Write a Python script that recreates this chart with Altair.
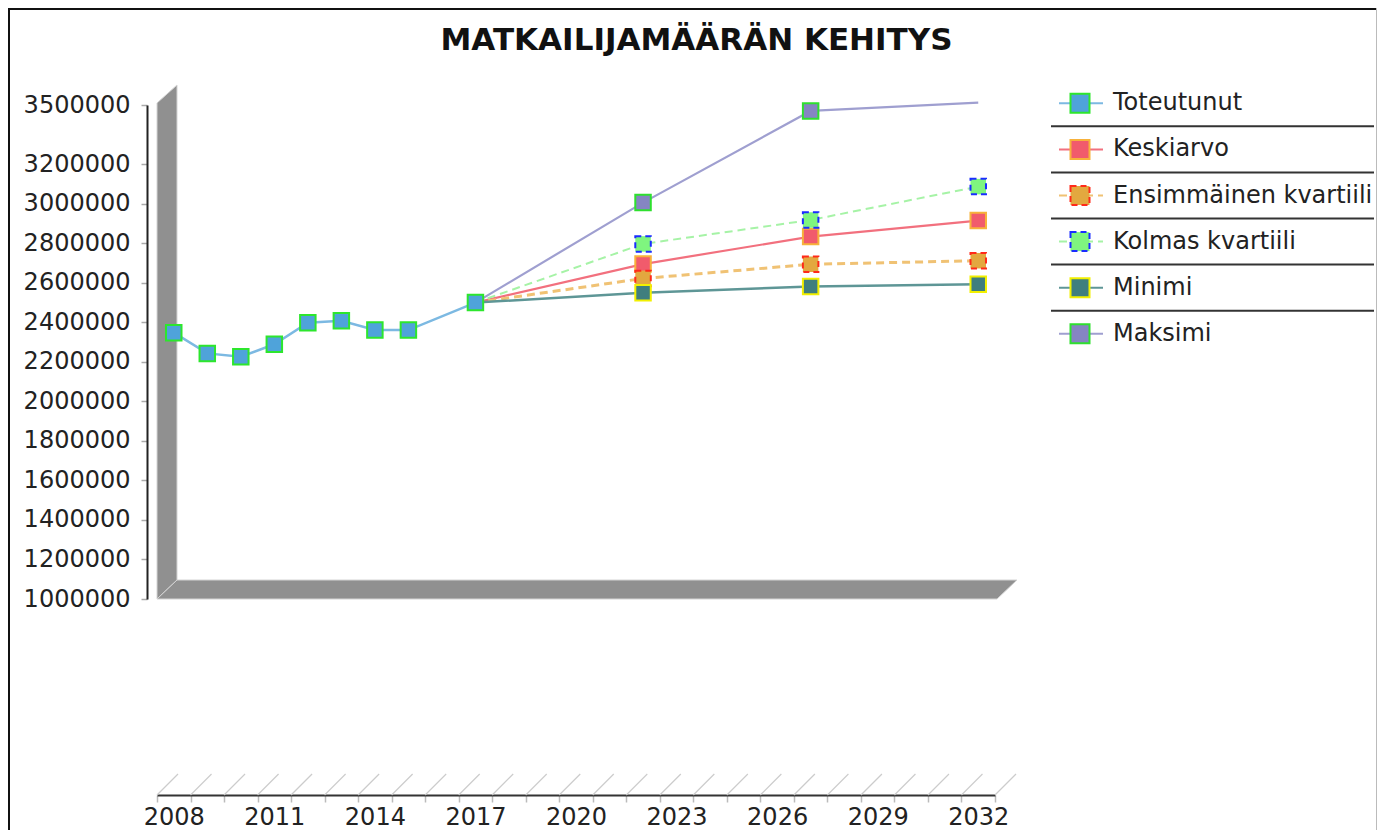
import altair as alt
import pandas as pd

TITLE = "MATKAILIJAMÄÄRÄN KEHITYS"
SERIES = ["Toteutunut", "Keskiarvo", "Ensimmäinen kvartiili",
          "Kolmas kvartiili", "Minimi", "Maksimi"]

YEARS_ALL = list(range(2008, 2033))
TOT_YEARS = [2008, 2009, 2010, 2011, 2012, 2013, 2014, 2015, 2017]
TOT_VALUES = [2348000, 2243000, 2226000, 2289000, 2398000, 2408000,
              2361000, 2361000, 2500000]
FC_YEARS = [2017, 2022, 2027, 2032]
KESKIARVO = [2500000, 2695000, 2834000, 2915000]
ENSIMMAINEN = [2500000, 2622000, 2694000, 2712000]
KOLMAS = [2500000, 2797000, 2918000, 3087000]
MINIMI = [2500000, 2550000, 2581000, 2593000]
MAKSIMI = [2500000, 3006000, 3470000, 3512000]

Y_TICKS = [1000000, 1200000, 1400000, 1600000, 1800000, 2000000,
           2200000, 2400000, 2600000, 2800000, 3000000, 3200000, 3500000]
Y_MIN, Y_MAX = 1000000, 3500000

rows = []
for yr, v in zip(TOT_YEARS, TOT_VALUES):
    rows.append({"series": "Toteutunut", "year": yr, "value": v})
for name, vals in zip(SERIES[1:], [KESKIARVO, ENSIMMAINEN, KOLMAS, MINIMI, MAKSIMI]):
    for yr, v in zip(FC_YEARS, vals):
        rows.append({"series": name, "year": yr, "value": v})
df = pd.DataFrame(rows)

# ---- styles ----
STYLE = {
    "Toteutunut": dict(line="#7cb9e2", lw=2.5, fill="#4fa3da", stroke="#2de62d"),
    "Keskiarvo": dict(line="#f2707e", lw=2.2, fill="#f15b6c", stroke="#f7b23b"),
    "Ensimmäinen kvartiili": dict(line="#f0c274", lw=3, dash=[8, 5], fill="#e3a83f",
                                  stroke="#ff2a1a", mdash=[6, 4]),
    "Kolmas kvartiili": dict(line="#a6f3a6", lw=2, dash=[8, 5], fill="#7ff57f",
                             stroke="#1a2cff", mdash=[6, 4]),
    "Minimi": dict(line="#5e9696", lw=2.5, fill="#3f7e7e", stroke="#f2f000"),
    "Maksimi": dict(line="#9f9fd0", lw=2.2, fill="#8585c2", stroke="#2ee02e"),
}

W, H = 838, 494
PAD_L, PAD_T = 149, 97
SVG_W, SVG_H = 1369, 822
DEPTH_X, DEPTH_Y = 20, 19
AX_OFF = 196
FONT = "DejaVu Sans"
TXT = "#222222"

X_AXIS = alt.Axis(title=None, offset=AX_OFF, tickBand="extent", tickSize=7,
                  tickColor="#bbbbbb", tickWidth=1.5, domainColor="#333333",
                  domainWidth=2, labelFontSize=24, labelColor=TXT, labelPadding=3,
                  labelAngle=0, labelOverlap=False, grid=False,
                  labelExpr="(datum.value - 2008) % 3 == 0 ? datum.label : ''")
X_SCALE = alt.Scale(type="band", domain=YEARS_ALL, paddingInner=0, paddingOuter=0)
X_ENC = alt.X("year:O", scale=X_SCALE, axis=X_AXIS)

Y_AXIS = alt.Axis(title=None, values=Y_TICKS, format="d", offset=10, tickSize=6,
                  tickColor="#aaaaaa", tickWidth=1.5, domainColor="#222222",
                  domainWidth=2, labelFontSize=24, labelColor=TXT, labelPadding=11,
                  labelOverlap=False, grid=False)
Y_ENC = alt.Y("value:Q", scale=alt.Scale(domain=[Y_MIN, Y_MAX], nice=False, zero=False),
              axis=Y_AXIS)

one = pd.DataFrame({"a": [0]})
layers = []

# frame around the whole chart
layers.append(alt.Chart(one).mark_rule(color="#111111", strokeWidth=2).encode(
    x=alt.value(-PAD_L + 1), y=alt.value(-PAD_T), y2=alt.value(SVG_H - PAD_T)))
layers.append(alt.Chart(one).mark_rule(color="#111111", strokeWidth=2).encode(
    x=alt.value(-PAD_L), x2=alt.value(SVG_W - PAD_L), y=alt.value(-PAD_T + 1)))
layers.append(alt.Chart(one).mark_rule(color="#bbbbbb", strokeWidth=1).encode(
    x=alt.value(SVG_W - PAD_L - 0.5), y=alt.value(-PAD_T), y2=alt.value(SVG_H - PAD_T)))

# title
layers.append(alt.Chart(pd.DataFrame({"t": [TITLE]})).mark_text(
    fontSize=31, fontWeight="bold", align="center", baseline="alphabetic",
    color="#111111", font=FONT).encode(
    text="t:N", x=alt.value(539.5), y=alt.value(-55)))

# 3D wall and floor
wall = pd.DataFrame({"px": [0, DEPTH_X], "py": [-2, -2 - DEPTH_Y + 1],
                     "py2": [H, H - DEPTH_Y]})
floor = pd.DataFrame({"px": [0, DEPTH_X, W + 2, W + 2 + DEPTH_X],
                      "py": [H, H - DEPTH_Y, H - DEPTH_Y, H - DEPTH_Y],
                      "py2": [H, H, H, H - DEPTH_Y]})
for poly in (wall, floor):
    layers.append(alt.Chart(poly).mark_area(color="#909090", stroke="#d4d4d4",
                                            strokeWidth=1).encode(
        x=alt.X("px:Q", scale=None),
        y=alt.Y("py:Q", scale=None),
        y2="py2:Q"))

# hatch on the x axis
hatch = pd.DataFrame({"year": YEARS_ALL})
layers.append(alt.Chart(hatch).mark_rule(color="#cccccc", strokeWidth=1.2,
                                         x2Offset=21).encode(
    x=alt.X("year:O", scale=X_SCALE, axis=X_AXIS, bandPosition=0),
    x2=alt.X2("year", bandPosition=0),
    y=alt.value(H + AX_OFF), y2=alt.value(H + AX_OFF - 21)))
layers.append(alt.Chart(pd.DataFrame({"year": [YEARS_ALL[-1]]})).mark_rule(
    color="#cccccc", strokeWidth=1.2, x2Offset=21).encode(
    x=alt.X("year:O", scale=X_SCALE, axis=X_AXIS, bandPosition=1),
    x2=alt.X2("year", bandPosition=1),
    y=alt.value(H + AX_OFF), y2=alt.value(H + AX_OFF - 21)))

# lines
for s in SERIES:
    st = STYLE[s]
    kw = dict(color=st["line"], strokeWidth=st["lw"])
    if "dash" in st:
        kw["strokeDash"] = st["dash"]
    layers.append(alt.Chart(df).transform_filter(alt.datum.series == s)
                  .mark_line(**kw).encode(x=X_ENC, y=Y_ENC))

# markers
for s in SERIES:
    st = STYLE[s]
    kw = dict(shape="square", filled=True, size=240, fill=st["fill"],
              stroke=st["stroke"], strokeWidth=2, opacity=1)
    if "mdash" in st:
        kw["strokeDash"] = st["mdash"]
    ch = alt.Chart(df).transform_filter(alt.datum.series == s)
    if s != "Toteutunut":
        ch = ch.transform_filter(alt.datum.year != 2017)
    ch = ch.transform_filter(alt.datum.value <= Y_MAX)
    layers.append(ch.mark_point(**kw).encode(x=X_ENC, y=Y_ENC))

# legend
STEP = 46.1
for i, s in enumerate(SERIES):
    st = STYLE[s]
    yc = i * STEP - 1.7
    d = pd.DataFrame({"series": [s]})
    if i < len(SERIES) - 1:
        layers.append(alt.Chart(d).mark_rule(color="#333333", strokeWidth=2).encode(
            x=alt.value(894), x2=alt.value(SVG_W - PAD_L - 3), y=alt.value(yc + 23)))
    kw = dict(color=st["line"], strokeWidth=2)
    if "dash" in st:
        kw["strokeDash"] = st["dash"]
    layers.append(alt.Chart(d).mark_rule(**kw).encode(
        x=alt.value(902), x2=alt.value(946), y=alt.value(yc)))
    pkw = dict(shape="square", filled=True, size=361, fill=st["fill"],
               stroke=st["stroke"], strokeWidth=2, opacity=1)
    if "mdash" in st:
        pkw["strokeDash"] = st["mdash"]
    layers.append(alt.Chart(d).mark_point(**pkw).encode(
        x=alt.value(923), y=alt.value(yc)))
    layers.append(alt.Chart(d).mark_text(align="left", baseline="middle",
                                         fontSize=24, color=TXT, font=FONT).encode(
        text="series:N", x=alt.value(956), y=alt.value(yc)))

chart = (alt.layer(*layers)
         .properties(width=W, height=H,
                     autosize=alt.AutoSizeParams(type="none"),
                     padding={"left": PAD_L, "top": PAD_T,
                              "right": SVG_W - PAD_L - W,
                              "bottom": SVG_H - PAD_T - H})
         .configure(font=FONT)
         .configure_view(stroke=None))

chart.save("out.html", embed_options={"renderer": "svg", "actions": False})
